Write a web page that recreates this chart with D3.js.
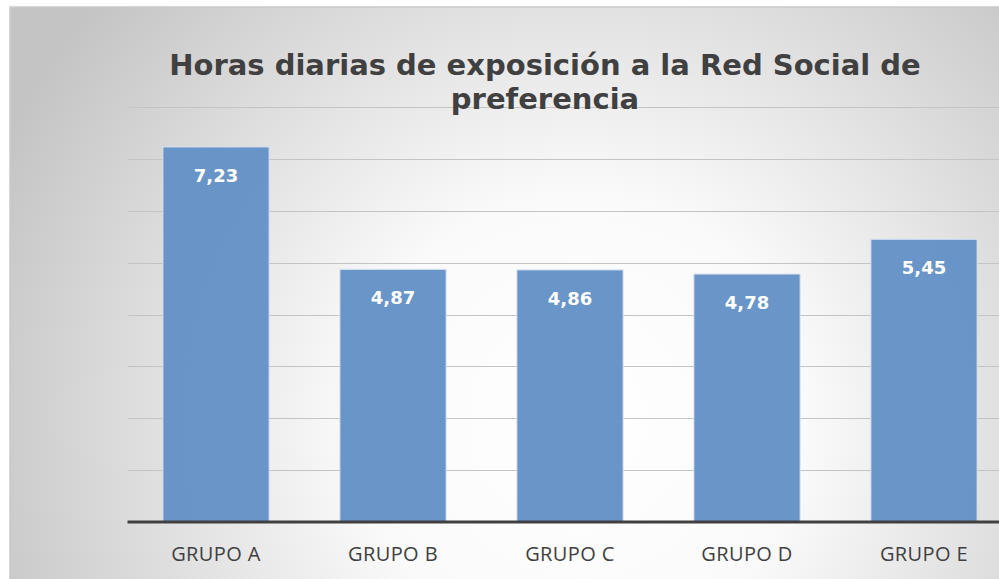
<!DOCTYPE html>
<html>
<head>
<meta charset="utf-8">
<script src="https://cdn.jsdelivr.net/npm/d3@7"></script>
<style>
  body { margin: 0; background: #fff; }
  svg { display: block; }
</style>
</head>
<body>
<svg id="chart" width="999" height="579"></svg>
<script>
// datos
var grupos = ["GRUPO A", "GRUPO B", "GRUPO C", "GRUPO D", "GRUPO E"]
var horas = [7.23, 4.87, 4.86, 4.78, 5.45]
var etiquetas = ["7,23", "4,87", "4,86", "4,78", "5,45"]
var ticks = [0, 1, 2, 3, 4, 5, 6, 7, 8]

var svg = d3.select("#chart")

// fondo con degradado radial
var defs = svg.append("defs")
var grad = defs.append("radialGradient")
  .attr("id", "fondo")
  .attr("gradientUnits", "userSpaceOnUse")
  .attr("cx", 580).attr("cy", 420).attr("r", 640)
grad.append("stop").attr("offset", "0%").attr("stop-color", "#ffffff")
grad.append("stop").attr("offset", "35%").attr("stop-color", "#fafafa")
grad.append("stop").attr("offset", "100%").attr("stop-color", "#c4c4c4")

svg.append("rect")
  .attr("x", 10).attr("y", 7)
  .attr("width", 1000).attr("height", 600)
  .attr("fill", "url(#fondo)")
  .attr("stroke", "#c9c9c9")
  .attr("stroke-width", 1.5)

var x = d3.scaleBand()
  .domain(grupos)
  .range([127.5, 1012.5])
  .paddingInner(0.4)
  .paddingOuter(0.2)

var y = d3.scaleLinear()
  .domain([0, 8])
  .range([522, 107])

// lineas de cuadricula
svg.append("g")
  .selectAll("line")
  .data(ticks.slice(1))
  .join("line")
  .attr("x1", 127.5).attr("x2", 1012.5)
  .attr("y1", d => Math.round(y(d)) + 0.5)
  .attr("y2", d => Math.round(y(d)) + 0.5)
  .attr("stroke", "#c4c4c4")
  .attr("stroke-width", 1.2)

// barras
svg.append("g")
  .selectAll("rect")
  .data(horas)
  .join("rect")
  .attr("x", (d, i) => x(grupos[i]))
  .attr("y", d => y(d))
  .attr("width", x.bandwidth())
  .attr("height", d => y(0) - y(d))
  .attr("fill", "#6492c6")
  .attr("fill-opacity", 0.97)
  .attr("stroke", "#d6e2f1")
  .attr("stroke-width", 1)

// etiquetas de valores
svg.append("g")
  .selectAll("text")
  .data(horas)
  .join("text")
  .attr("x", (d, i) => x(grupos[i]) + x.bandwidth() / 2)
  .attr("y", d => y(d) + 35)
  .attr("text-anchor", "middle")
  .attr("font-family", "'DejaVu Sans', sans-serif")
  .attr("font-weight", "bold")
  .attr("font-size", 18)
  .attr("fill", "#ffffff")
  .text((d, i) => etiquetas[i])

// eje x
svg.append("line")
  .attr("x1", 127.5).attr("x2", 1012.5)
  .attr("y1", y(0)).attr("y2", y(0))
  .attr("stroke", "#404040")
  .attr("stroke-width", 3)

svg.append("g")
  .selectAll("text")
  .data(grupos)
  .join("text")
  .attr("x", d => x(d) + x.bandwidth() / 2)
  .attr("y", 561)
  .attr("text-anchor", "middle")
  .attr("font-family", "'Open Sans', sans-serif")
  .attr("font-size", 20)
  .attr("letter-spacing", 0.4)
  .attr("fill", "#404040")
  .text(d => d)

// titulo
var titulo = svg.append("text")
  .attr("text-anchor", "middle")
  .attr("font-family", "'DejaVu Sans', sans-serif")
  .attr("font-weight", "bold")
  .attr("font-size", 29)
  .attr("fill", "#404040")
titulo.append("tspan").attr("x", 545).attr("y", 75).text("Horas diarias de exposición a la Red Social de")
titulo.append("tspan").attr("x", 545).attr("y", 109).text("preferencia")
</script>
</body>
</html>
